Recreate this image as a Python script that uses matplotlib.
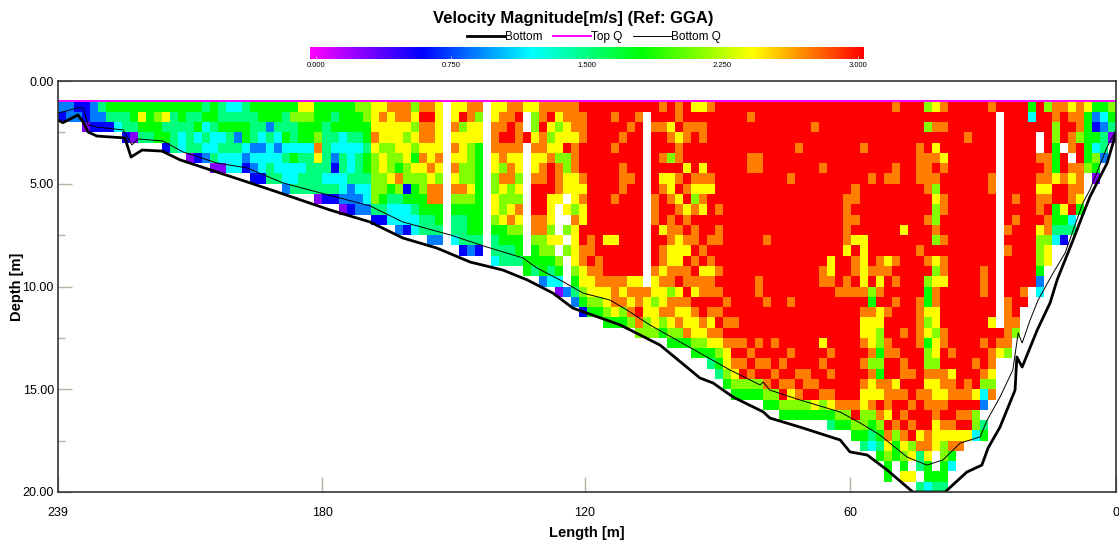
#!/usr/bin/env python
# -*- coding: utf-8 -*-
import numpy as np
import matplotlib
matplotlib.use('Agg')
import matplotlib.pyplot as plt
from matplotlib.cm import ScalarMappable
from matplotlib.colors import LinearSegmentedColormap, Normalize
from matplotlib.ticker import FixedLocator

plt.rcParams['font.family'] = ['Liberation Sans', 'DejaVu Sans']

# velocity, one string per column (left to right), first char is
# the top row. 0-9 = digit * 0.3 m/s, a = 3.0 m/s, . = no data
cols_left = [
    '32', '33', '23', '221', '332', '532', '652', '654', '6552', '6651', '6865', '6665',
    '6766', '68562', '65555', '66544', '655551', '656452', '564543', '6654451', '5564541',
    '4565544', '4563544', '5566432', '65553432', '66543442', '66354455', '66543445',
    '655645443', '675546445', '876645455', '876645555', '6667985551', '6655555452',
    '6565432452', '66644554431', '66654445332', '76654555433', '77665665443',
]
cols_mid = [
    '888987777752', '898878877652', '988877786544', '9988876975443', '9987887726442',
    '7878768766544', '9a99898776655', '9a99889899 6553'.replace(' ', ''), '88888987996653', '',
    '88989898976554', '8a7888779765552', '998877778766653', '978866666666652', '',
    '8899988778876554', '899a997987786655', '99aa989977897655', '9a99988787987665',
    '8..a...........66', '87789889aaa997665', '99a99899aaa9977663', '9a8789aaa888787654',
    '9878879998...8.7641', '9988a7788.8.7.7...3', '99989998887988887653', 'a999aaa98988aa9988762',
]
cols_red = [
    'aaaaaaaaaaaaa99a98876', 'aaaaaaaaaaaaaaa999876', 'aaaaaaaaaaaaa8aaa98876',
    'a9aa9aaaa9aaa8aaa99986', 'aaa9aa999aaaaaaaa98976', 'aa9aaaa9aaaaaaaaa89897',
    'a9aaaaaaaaaaaaaaa899a97', 'a.................98877', 'aa9aaaaaa999aaaa9887887',
    '9a9aa9a89aaa8a998988976', 'aa89a7a889a9998899799876', '99a899a9a89a98889a898976',
    'aa99aa8a9a89a98a99a98896', '8a9aaaa9879a99a9a98a98876',
    '8a99aa89898aaa9a899aa9876', '9aaaaaa98aaaa9a9899a989865',
    'aaaaaaaaaa9a99aa9a9a9a98765', 'aaaaaaaaaaaaaaaaaaa9a9a98876',
    'aaaaaaaaaaaaaaaaaaaaa9a9a9876',
]
cols_right = [
    'aaaaaaaaaaaaaaaaaaaaaaa9a9a76', 'a9aaa99aaaaaaaaaaaaaaaaa9a976',
    'aaaaa99aaaaaaaaaa99aaaa9a9a76', 'aaaaaaaaaaaaa9aaaaa9aaaaa9a976',
    'aaaaaaaaaaaaaaaaaaaaaaa9aa9a76', 'aaaaaaaaaaaaaaaaaaaaaaaaa9a9a76',
    'aaaaaaa9aaaaaaaaaaa9aaaa9aa9876', 'aaaa9aaaaaaaaaaaaaaaaaaaaa9a976',
    'aaaaaaaaaaaaaaaaaaaaaaaaaa99a76', 'aa9aaaaaaaaaaaaaaaaaaaaaaaa9a86',
    'aaaaaa9aaaaaaaaa99aaaaa8a9aa976', 'aaaaaaaaaaaaaaa889aaaaaa9a9a9865',
    'aaaaaaaaaaaaaaaaaa9aaaaaaaaaa976', 'aaaaaaaaa999998aa99aaaaaaaaaa976',
    'aaaaaaaa99a9a8a99a9aaaaaaaaaa9a76', 'aaaa9aaaaaaaa888889a9889a9a9887765',
    'aaaaaaa9aaaaaaaa9a7698889798897654', 'aaaaaaaaaaaaaaa9989a887767698a97656',
    'aaaaaaa9aaaaaaa89aaa9aa99aa9998a98766', '9aaaaa99aaaaaaa9a9a9aaaa9aa89aa9766',
    'aaaaaaaaaaaa8aaaaaaaaa9aa99a9a9a98768', 'aaaaaaaaaaaaaaaaaaaaaaaaaa9aa9a9a78.8',
    'aaaa9999aaaaaa9aaaa99999aaaa9aaa8955.5',
    '7a7aa9999aa9aaa9a76687867798 99aa998664 2'.replace(' ', ''),
    '8a9a89a9787797a878998878879889988 8..65.'.replace(' ', ''),
    '9a9aa89aa99aa9a998aaaa99aa9989a9877665',
    'aaaaaaaaaaaaaaaaaaaaaaaa9a899aa98964',
    'aaaaaaaaaaaaaaaaaaaaaaaaaaaa9a9a89', 'aaa9aaaaaaaaaaaaaaaaaaaaaaa99a9a8',
    'aaaaaaaaaaaaaaaaaaaaaaaaa9aa8a774', 'aaaaaaaaaaaaaaaa999aaaa9aa9743.56',
    '9aaaaaa99aaaaaaaaaaaa8aa99879', 'a.....................a98',
    'aaaaaaaaaaaa9a9aaaa999997', 'aaaaaaaaa9a9aaaaaaaaa97', 'aaaaaaaaaaaaaaaaaa9a',
]
cols_bank = [
    '64aaaaaaaaaaaaaaaa', 'aaa..9a9899a8777634', '7aaaa99989a99788',
    '9977666 8aa6654'.replace(' ', ''), '9aaa.aa9aa8652', '89a99.9899a45', '9997aa99986',
    '8666667', '63264761', '643553', '7651',
]

bottom_len = [239, 237.9, 234.5, 233.3, 232.2, 230.2, 223.9, 222.5, 220, 215.5, 211.4, 202.4,
              195.6, 188.8, 177.5, 168.5, 161.1, 153.4, 145.9, 138.5, 133, 127.2, 122.7, 112,
              103, 94, 91, 86.5, 79.7, 78.2, 71.4, 62.3, 60.1, 56.2, 51.7, 45.9, 38.6, 33.7,
              30.3, 28.9, 26.2, 22.8, 22.4, 21.2, 17.8, 14.9, 13.3, 9.7, 7.7, 5.9, 4.3, 2, 0]
bottom_depth = [1.90, 2.03, 1.65, 2.0, 2.48, 2.68, 2.77, 3.70, 3.36, 3.41, 3.84, 4.48,
                4.96, 5.45, 6.28, 6.86, 7.64, 8.13, 8.81, 9.2, 9.68, 10.32, 11.05, 11.87,
                12.85, 14.45, 14.7, 15.38, 16.1, 16.4, 16.84, 17.47, 18.05, 18.2, 18.93, 20, 20, 19.03,
                18.69, 17.86, 16.84, 15.04, 13.43, 13.92, 12.12, 10.8, 9.68, 7.74, 6.62, 5.64, 4.96, 3.99, 2.53]

botq_len = [239, 234.5, 233.3, 232.2, 230.2, 224.3, 222.3, 220.9, 215.3, 210.8, 203.1, 196.3,
            188.2, 180.5, 168.5, 161.1, 150.4, 142.1, 134, 130.8, 125.6, 120.4, 114.3, 110.5,
            105.3, 94, 87.2, 80.4, 79.7, 78.2, 71.4, 62.3, 57.8, 53.3, 47.2, 42.7, 39.1, 35.2,
            30.7, 29.1, 26.2, 23.3, 22.1, 21.2, 19.4, 17.6, 14.2, 11.5, 7.5, 5.9, 2, 0]
botq_depth = [1.56, 1.31, 1.31, 2.14, 2.24, 2.38, 3.11, 2.82, 2.92, 3.45, 3.99, 4.23,
              4.96, 5.4, 6.08, 6.86, 7.49, 8.08, 8.61, 9.1, 9.68, 10.32, 10.66, 11.14,
              11.87, 13.24, 14.06, 14.79, 14.65, 15.04, 15.52, 16.11, 16.64, 17.23, 18.3, 18.69, 18.44, 17.62,
              17.32, 16.5, 15.38, 14.06, 12.26, 12.75, 11.63, 10.66, 9.34, 8.37, 5.94, 5.3, 3.21, 2.38]

topq_len = [239, 0]
topq_depth = [0.97, 0.97]

y_ticks = [0, 5, 10, 15, 20]
y_minor = [2.5, 7.5, 12.5, 17.5]
y_labels = ['0.00', '5.00', '10.00', '15.00', '20.00']
x_ticks = [239, 179.3, 120, 60, 0]
x_labels = ['239', '180', '120', '60', '0']
bar_ticks = [0, 0.75, 1.5, 2.25, 3]
bar_labels = ['0.000', '0.750', '1.500', '2.250', '3.000']
bar_colors = ['#ff00ff', '#0000ff', '#00ffff', '#00ff00', '#ffff00', '#ff0000']


def decode(columns, n_rows=38):
    grid = np.full((n_rows, len(columns)), np.nan)
    for c, s in enumerate(columns):
        for r, ch in enumerate(s[:n_rows]):
            if ch == 'a':
                grid[r, c] = 3.0
            elif ch != '.':
                grid[r, c] = int(ch) * 0.3
    return grid


def plot():
    W, H = 1119.0, 545.0
    fig = plt.figure(figsize=(W / 100, H / 100), dpi=100)
    ax = fig.add_axes([58 / W, 1 - 492 / H, 1058 / W, 411 / H])
    cmap = LinearSegmentedColormap.from_list('vel', bar_colors)

    columns = cols_left + cols_mid + cols_red + cols_right + cols_bank
    grid = decode(columns)
    x_edges = np.linspace(239, 0, len(columns) + 1)
    y_edges = 1.0 + 0.5 * np.arange(grid.shape[0] + 1)
    ax.pcolormesh(x_edges, y_edges, np.ma.masked_invalid(grid), cmap=cmap,
                  vmin=0, vmax=3, shading='flat', antialiased=False)

    l1, = ax.plot(bottom_len, bottom_depth, color='black', lw=2.0, label='Bottom')
    l2, = ax.plot(topq_len, topq_depth, color='#ff00ff', lw=1.4, label='Top Q')
    l3, = ax.plot(botq_len, botq_depth, color='black', lw=0.7, label='Bottom Q')

    ax.set_xlim(239, 0)
    ax.set_ylim(20, 0)
    ax.set_xticks(x_ticks)
    ax.set_xticklabels(x_labels, fontsize=9)
    ax.set_yticks(y_ticks)
    ax.set_yticklabels(y_labels, fontsize=9)
    ax.yaxis.set_minor_locator(FixedLocator(y_minor))
    ax.tick_params(axis='x', which='major', direction='in', length=11, width=1, color='#b8b0a0', pad=11)
    ax.tick_params(axis='y', which='major', direction='in', length=10, width=1, color='#b8b0a0', pad=3)
    ax.tick_params(axis='y', which='minor', direction='in', length=5, width=1, color='#b8b0a0')
    for s in ax.spines.values():
        s.set_linewidth(1.2)
        s.set_color('#333333')
    ax.set_xlabel('Length [m]', fontsize=10.5, fontweight='bold', labelpad=5)
    ax.set_ylabel('Depth [m]', fontsize=10.5, fontweight='bold', labelpad=-1)

    fig.text(573 / W, 1 - 19 / H, 'Velocity Magnitude[m/s] (Ref: GGA)', ha='center', va='center',
             fontsize=12, fontweight='bold')
    fig.legend(handles=[l1, l2, l3], loc='center', bbox_to_anchor=(594 / W, 1 - 37 / H), ncol=3,
               frameon=False, fontsize=8.5, handlelength=3.2, handletextpad=0.0, columnspacing=0.9,
               borderpad=0, labelspacing=0)

    # the ramp runs a little past the 0 and 3 ticks on both sides
    cax = fig.add_axes([310 / W, 1 - 59 / H, 554 / W, 12 / H])
    bar = fig.colorbar(ScalarMappable(Normalize(-0.033, 3.033), cmap), cax=cax, orientation='horizontal')
    bar.set_ticks(bar_ticks)
    bar.set_ticklabels(bar_labels, fontsize=5.5)
    bar.outline.set_visible(False)
    cax.tick_params(axis='x', direction='in', length=2, width=0.6, color='#c8c8c8', pad=2)

    fig.savefig('out.png', dpi=100)


if __name__ == "__main__":
    plot()
